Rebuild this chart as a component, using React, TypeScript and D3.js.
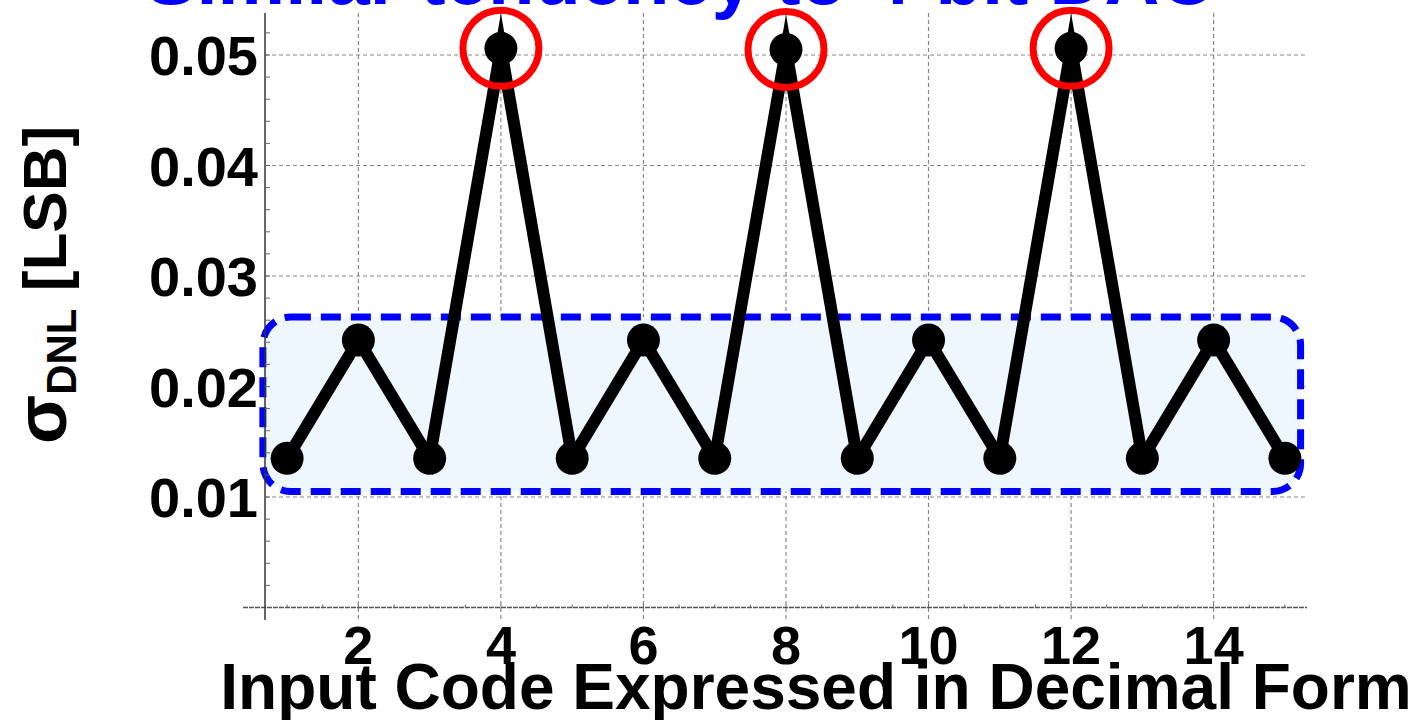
import React from "react";
import * as d3 from "d3";

const codes = [1, 2, 3, 4, 5, 6, 7, 8, 9, 10, 11, 12, 13, 14, 15];
const sigmaDNL = [0.0135, 0.0242, 0.0135, 0.0506, 0.0135, 0.0242, 0.0135, 0.0505, 0.0135, 0.0242, 0.0135, 0.0506, 0.0135, 0.0242, 0.0135];
const xTicks = [2, 4, 6, 8, 10, 12, 14];
const yTicks = [0.01, 0.02, 0.03, 0.04, 0.05];
const yMinor = d3.range(0.002, 0.054, 0.002);
const xMinor = d3.range(1, 15.2, 0.5);
const highlighted = [4, 8, 12];
const boxRange = { x0: 0.66, x1: 15.22, y0: 0.0105, y1: 0.0263 };
const titleText = "Similar tendency to 4-bit DAC";
const xTitle = "Input Code Expressed in Decimal Form";

const W = 1416;
const H = 720;
const FONT = "'Liberation Sans', Arial, sans-serif";

export default function App() {
  const x = d3.scaleLinear().domain([0.69, 15.31]).range([265, 1307]);
  const y = d3.scaleLinear().domain([0, 0.01]).range([607.5, 497]);
  const yTop = 13;
  const line = d3
    .line<number>()
    .x((_, i) => x(codes[i]))
    .y((d) => y(d));

  return (
    <svg
      width={W}
      height={H}
      style={{ position: "absolute", left: 0, top: 0, background: "#fff" }}
      fontFamily={FONT}
    >
      {/* title (clipped at top) */}
      <text x={680} y={4} textAnchor="middle" fontSize={76} fontWeight="bold" fill="#0000ff">
        {titleText}
      </text>

      {/* grid */}
      {yTicks.map((t) => (
        <line key={"gy" + t} x1={265} x2={1307} y1={y(t)} y2={y(t)} stroke="#888" strokeWidth={1.2} strokeDasharray="4,3" />
      ))}
      {xTicks.map((t) => (
        <line key={"gx" + t} x1={x(t)} x2={x(t)} y1={yTop} y2={622} stroke="#888" strokeWidth={1.2} strokeDasharray="4,3" />
      ))}

      {/* highlighted box */}
      <rect
        x={x(boxRange.x0)}
        y={y(boxRange.y1)}
        width={x(boxRange.x1) - x(boxRange.x0)}
        height={y(boxRange.y0) - y(boxRange.y1)}
        rx={28}
        ry={28}
        fill="#eef6fe"
        stroke="#0000ff"
        strokeWidth={7}
        strokeDasharray="20,10"
      />

      {/* axes */}
      <line x1={243} x2={1307} y1={y(0)} y2={y(0)} stroke="#555" strokeWidth={1.5} strokeDasharray="5,1" />
      <line x1={265} x2={265} y1={yTop} y2={620} stroke="#333" strokeWidth={1.5} />
      {yMinor.map((t) => (
        <line key={"ym" + t} x1={265} x2={270} y1={y(t)} y2={y(t)} stroke="#666" strokeWidth={1} />
      ))}
      {xMinor.map((t) => (
        <line key={"xm" + t} x1={x(t)} x2={x(t)} y1={y(0)} y2={y(0) - 3} stroke="#666" strokeWidth={1} />
      ))}

      {/* data line */}
      <path
        d={line(sigmaDNL) || ""}
        fill="none"
        stroke="#000"
        strokeWidth={12}
        strokeLinejoin="miter"
        strokeMiterlimit={10}
      />
      {sigmaDNL.map((v, i) => (
        <circle key={"p" + i} cx={x(codes[i])} cy={y(v)} r={16.5} fill="#000" />
      ))}

      {/* red highlight circles */}
      {highlighted.map((c) => (
        <circle key={"h" + c} cx={x(c)} cy={y(sigmaDNL[codes.indexOf(c)])} r={38} fill="none" stroke="#ff0000" strokeWidth={7} />
      ))}

      {/* tick labels */}
      {yTicks.map((t) => (
        <text key={"ly" + t} x={258} y={y(t)} dy="0.36em" textAnchor="end" fontSize={56} fontWeight="bold" fill="#000">
          {t.toFixed(2)}
        </text>
      ))}
      {xTicks.map((t) => (
        <text key={"lx" + t} x={x(t)} y={664} textAnchor="middle" fontSize={54} fontWeight="bold" fill="#000">
          {t}
        </text>
      ))}

      {/* axis titles */}
      <text x={816} y={709} textAnchor="middle" fontSize={64} fontWeight="bold" fill="#000">
        {xTitle}
      </text>
      <text transform="translate(66,285) rotate(-90)" textAnchor="middle" fontSize={62} fontWeight="bold" fill="#000">
        <tspan fontSize={72}>σ</tspan>
        <tspan fontSize={42} dy={10}>DNL</tspan>
        <tspan dy={-10}> [LSB]</tspan>
      </text>
    </svg>
  );
}
